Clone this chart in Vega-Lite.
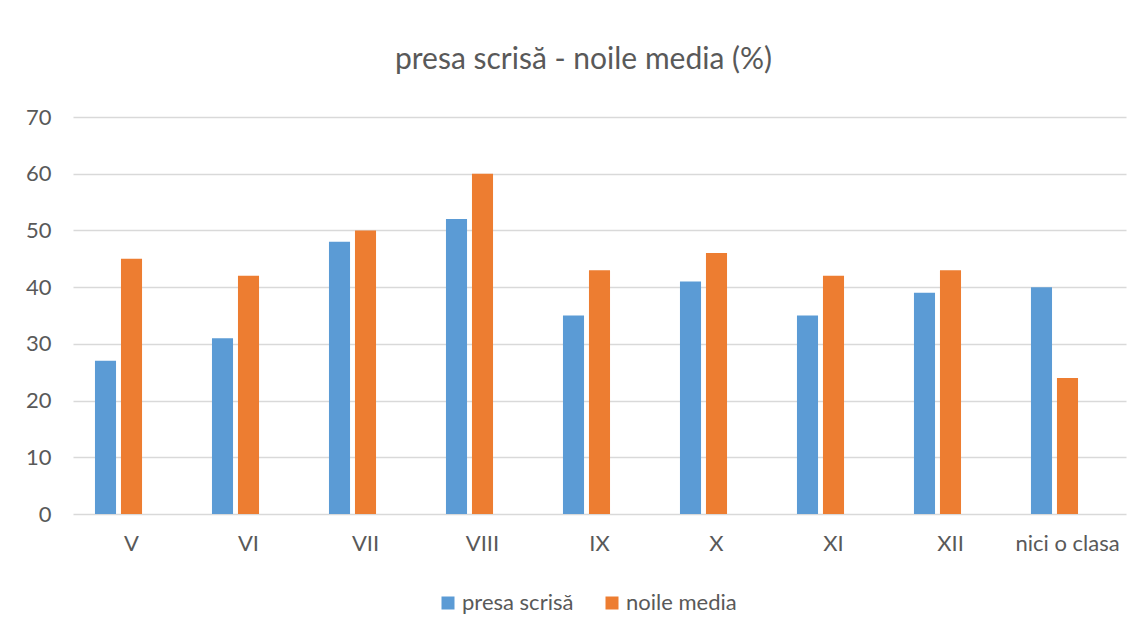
{
  "$schema": "https://vega.github.io/schema/vega-lite/v6.json",
  "width": 1053,
  "height": 397,
  "autosize": {"type": "none"},
  "padding": {"left": 73, "top": 117, "right": 20, "bottom": 125},
  "background": "white",
  "title": {
    "text": "presa scrisă - noile media (%)",
    "fontSize": 30,
    "font": "Lato",
    "fontWeight": "normal",
    "color": "#595959",
    "anchor": "middle",
    "baseline": "alphabetic",
    "offset": 7,
    "dx": -16
  },
  "data": {
    "values": [
      {"clasa": "V", "serie": "presa scrisă", "valoare": 27},
      {"clasa": "V", "serie": "noile media", "valoare": 45},
      {"clasa": "VI", "serie": "presa scrisă", "valoare": 31},
      {"clasa": "VI", "serie": "noile media", "valoare": 42},
      {"clasa": "VII", "serie": "presa scrisă", "valoare": 48},
      {"clasa": "VII", "serie": "noile media", "valoare": 50},
      {"clasa": "VIII", "serie": "presa scrisă", "valoare": 52},
      {"clasa": "VIII", "serie": "noile media", "valoare": 60},
      {"clasa": "IX", "serie": "presa scrisă", "valoare": 35},
      {"clasa": "IX", "serie": "noile media", "valoare": 43},
      {"clasa": "X", "serie": "presa scrisă", "valoare": 41},
      {"clasa": "X", "serie": "noile media", "valoare": 46},
      {"clasa": "XI", "serie": "presa scrisă", "valoare": 35},
      {"clasa": "XI", "serie": "noile media", "valoare": 42},
      {"clasa": "XII", "serie": "presa scrisă", "valoare": 39},
      {"clasa": "XII", "serie": "noile media", "valoare": 43},
      {"clasa": "nici o clasa", "serie": "presa scrisă", "valoare": 40},
      {"clasa": "nici o clasa", "serie": "noile media", "valoare": 24}
    ]
  },
  "mark": {"type": "bar"},
  "encoding": {
    "x": {
      "field": "clasa",
      "type": "nominal",
      "sort": null,
      "scale": {"paddingInner": 0.3333, "paddingOuter": 0.1667},
      "axis": {
        "title": null,
        "labelAngle": 0,
        "domain": false,
        "ticks": false,
        "labelPadding": 19,
        "labelFontSize": 22,
        "labelFont": "Lato",
        "labelColor": "#595959"
      }
    },
    "xOffset": {
      "field": "serie",
      "type": "nominal",
      "scale": {"domain": ["presa scrisă", "noile media", "—"], "paddingInner": 0.19, "paddingOuter": 0.095}
    },
    "y": {
      "field": "valoare",
      "type": "quantitative",
      "scale": {"domain": [0, 70]},
      "axis": {
        "title": null,
        "values": [0, 10, 20, 30, 40, 50, 60, 70],
        "domain": false,
        "ticks": false,
        "labelPadding": 22,
        "labelFontSize": 22,
        "labelFont": "Lato",
        "labelColor": "#595959",
        "gridColor": "#d9d9d9",
        "gridWidth": 1.3
      }
    },
    "color": {
      "field": "serie",
      "type": "nominal",
      "scale": {"domain": ["presa scrisă", "noile media"], "range": ["#5b9bd5", "#ed7d31"]},
      "legend": {
        "title": null,
        "orient": "none",
        "direction": "horizontal",
        "legendX": 364,
        "legendY": 475,
        "symbolType": "square",
        "symbolSize": 169,
        "symbolStrokeWidth": 0,
        "labelFontSize": 22,
        "labelFont": "Lato",
        "labelColor": "#595959",
        "labelOffset": 3,
        "columnPadding": 27
      }
    }
  },
  "config": {"view": {"stroke": null}}
}
